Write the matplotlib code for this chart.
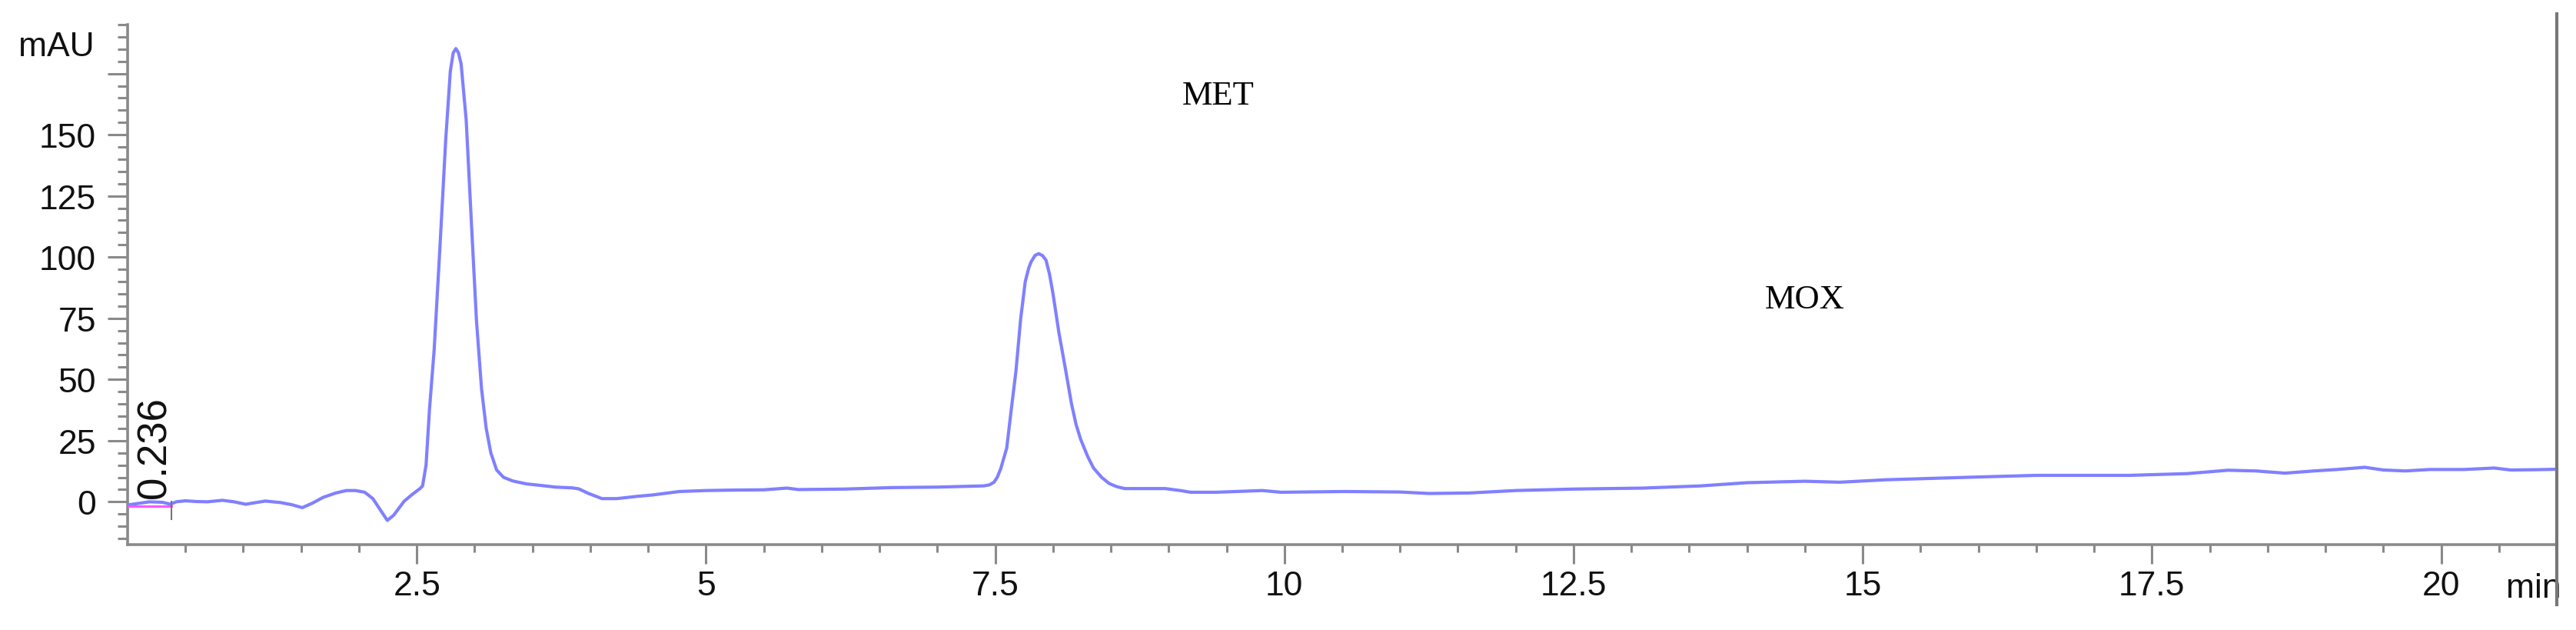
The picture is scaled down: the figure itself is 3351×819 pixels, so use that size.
import matplotlib
matplotlib.use("Agg")
import matplotlib.pyplot as plt
from matplotlib.lines import Line2D
import warnings
warnings.filterwarnings("ignore")

# ---- data ----
time_min = [0.00, 0.10, 0.19, 0.30, 0.37, 0.42, 0.50, 0.60, 0.69, 0.82, 0.92, 1.02, 1.10,
            1.19, 1.32, 1.42, 1.51, 1.60, 1.69, 1.80, 1.89, 1.97, 2.05, 2.12, 2.18, 2.245,
            2.30, 2.39, 2.46, 2.53, 2.55, 2.58, 2.61, 2.65, 2.70, 2.75, 2.79, 2.815, 2.838,
            2.86, 2.883, 2.927, 2.971, 3.016, 3.06, 3.10, 3.14, 3.19, 3.25, 3.33, 3.45, 3.55,
            3.70, 3.84, 3.90, 3.98, 4.10, 4.23, 4.40, 4.54, 4.77, 5.0, 5.25, 5.5, 5.7, 5.8,
            6.2, 6.6, 7.0, 7.4, 7.45, 7.49, 7.52, 7.55, 7.60, 7.64, 7.68, 7.72, 7.76, 7.79,
            7.81, 7.845, 7.876, 7.91, 7.94, 7.97, 8.0, 8.05, 8.11, 8.16, 8.20, 8.24, 8.30,
            8.35, 8.42, 8.485, 8.55, 8.62, 8.97, 9.1, 9.19, 9.41,
            9.81, 9.97, 10.52, 11.0, 11.25, 11.6, 12.0, 12.5, 13.1, 13.6, 14.0, 14.5, 14.8,
            15.2, 15.9, 16.5, 17.3, 17.8, 18.16, 18.4, 18.65, 18.9, 19.1, 19.34, 19.5, 19.69,
            19.9, 20.2, 20.46, 20.6, 20.8, 21.0]
signal_mau = [-1.3, -0.6, 0.0, -0.2, -1.0, 0.0, 0.4, 0.1, 0.0, 0.6, 0.0, -1.0, -0.4,
              0.3, -0.3, -1.2, -2.4, -0.5, 1.8, 3.6, 4.6, 4.6, 3.9, 1.3, -3.0, -7.6,
              -5.5, 0.2, 3.0, 5.5, 6.5, 15.0, 38.0, 62.0, 104.0, 148.0, 176.0, 183.5, 185.2,
              183.5, 179.0, 156.0, 115.0, 74.0, 46.0, 30.0, 20.0, 13.0, 10.0, 8.5, 7.3, 6.8,
              6.0, 5.7, 5.3, 3.5, 1.3, 1.3, 2.2, 2.8, 4.2, 4.6, 4.8, 4.9, 5.6, 5.0,
              5.2, 5.8, 6.0, 6.5, 6.9, 8.0, 10.2, 13.8, 22.0, 38.0, 53.6, 74.6, 90.0, 95.5,
              98.0, 100.7, 101.4, 100.6, 98.7, 93.0, 85.0, 69.4, 53.6, 40.0, 31.5, 25.4, 18.5,
              13.8, 10.0, 7.5, 6.2, 5.4, 5.4, 4.6, 3.9, 3.9,
              4.6, 3.9, 4.2, 4.0, 3.4, 3.6, 4.6, 5.2, 5.6, 6.5, 7.8, 8.4, 8.0,
              9.0, 10.0, 10.8, 10.8, 11.5, 12.9, 12.6, 11.7, 12.6, 13.2, 14.1, 13.0, 12.6,
              13.2, 13.2, 13.8, 13.0, 13.1, 13.3]

x_ticks = [2.5, 5, 7.5, 10, 12.5, 15, 17.5, 20]
x_tick_labels = ["2.5", "5", "7.5", "10", "12.5", "15", "17.5", "20"]
y_ticks = [0, 25, 50, 75, 100, 125, 150, 175]
y_tick_labels = ["0", "25", "50", "75", "100", "125", "150", ""]

baseline_start = [0.0, -1.9]
baseline_end = [0.38, -1.9]
rt_label = "0.236"
rt_value = 0.236
peak_names = ["MET", "MOX"]
peak_label_x = [9.43, 14.5]
peak_label_y = [166, 82.7]

# ---- figure ----
W, H = 3351, 820
fig = plt.figure(figsize=(W / 100, H / 100), dpi=100)
ax = fig.add_axes([166 / W, 111 / H, (3326 - 166) / W, (709 - 33) / H])
ax.set_xlim(0, 21)
ax.set_ylim(-17.5, 195)

ax.plot(time_min, signal_mau, color="#8080ff", lw=3.0, solid_joinstyle="round",
        solid_capstyle="round", zorder=3)
ax.plot([baseline_start[0], baseline_end[0]], [baseline_start[1], baseline_end[1]],
        color="#ff55ff", lw=2.2, zorder=4)
ax.plot([baseline_end[0], baseline_end[0]], [0, -7], color="#777777", lw=1.5, zorder=4)

ax.text(rt_value, 22.3, rt_label, rotation=90, ha="center", va="center", fontsize=38,
        family=["Liberation Sans Narrow", "Liberation Sans"], color="#111111")
for name, px, py in zip(peak_names, peak_label_x, peak_label_y):
    ax.text(px, py, name, ha="center", va="center", fontsize=32,
            family="Liberation Serif", color="black")

axis_col = "#8a8a8a"
for s in ["top", "right"]:
    ax.spines[s].set_visible(False)
for s in ["left", "bottom"]:
    ax.spines[s].set_color(axis_col)
    ax.spines[s].set_linewidth(2.6)

ax.set_xticks(x_ticks)
ax.set_xticklabels(x_tick_labels)
ax.set_yticks(y_ticks)
ax.set_yticklabels(y_tick_labels)
ax.set_xticks([i * 0.5 for i in range(1, 42)], minor=True)
ax.set_yticks([-15 + 5 * i for i in range(43)], minor=True)

ax.tick_params(axis="both", which="both", direction="out", colors=axis_col,
               labelcolor="#111111", labelsize=32, width=2.2)
ax.tick_params(axis="y", which="major", length=18.5, pad=11)
ax.tick_params(axis="y", which="minor", length=9.5)
ax.tick_params(axis="x", which="major", length=18, pad=6)
ax.tick_params(axis="x", which="minor", length=7)
for lab in ax.get_xticklabels() + ax.get_yticklabels():
    lab.set_family("Liberation Sans")

fig.text(123 / W, 1 - 73 / H, "mAU", ha="right", va="baseline", fontsize=32,
         family="Liberation Sans", color="#111111")
fig.text(3260 / W, 1 - 766 / H, "min", ha="left", va="center", fontsize=32,
         family="Liberation Sans", color="#111111", zorder=1)
fig.add_artist(Line2D([3326 / W, 3326 / W], [1 - 787 / H, 1 - 19 / H],
                      color="#777777", lw=3.0, zorder=10))

fig.savefig("out.png", dpi=100, facecolor="white")
